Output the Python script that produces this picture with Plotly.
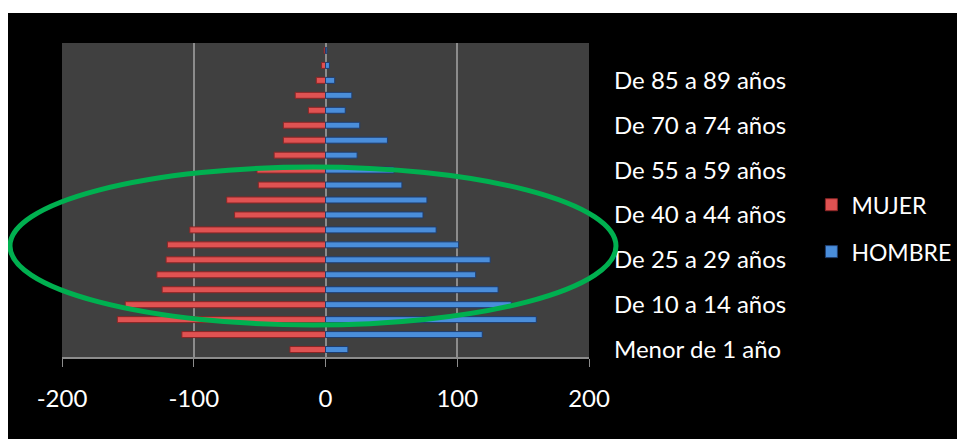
import plotly.graph_objects as go

categories = [
    "Menor de 1 año", "De 1 a 4 años", "De 5 a 9 años", "De 10 a 14 años",
    "De 15 a 19 años", "De 20 a 24 años", "De 25 a 29 años", "De 30 a 34 años",
    "De 35 a 39 años", "De 40 a 44 años", "De 45 a 49 años", "De 50 a 54 años",
    "De 55 a 59 años", "De 60 a 64 años", "De 65 a 69 años", "De 70 a 74 años",
    "De 75 a 79 años", "De 80 a 84 años", "De 85 a 89 años", "De 90 a 94 años",
    "De 95 a 99 años",
]
mujer = [27, 109, 158, 152, 124, 128, 121, 120, 103, 69, 75, 51, 52, 39, 32, 32, 13, 23, 7, 3, 1]
hombre = [17, 119, 160, 141, 131, 114, 125, 101, 84, 74, 77, 58, 52, 24, 47, 26, 15, 20, 7, 3, 1]
x_ticks = [-200, -100, 0, 100, 200]
shown_labels = categories[0::3]

FONT = "Lato"
GRAY = "#8c8c8c"

fig = go.Figure()
fig.add_trace(go.Bar(
    name="MUJER", y=categories, x=[-v for v in mujer], orientation="h",
    width=0.4, legendgroup="m",
    marker=dict(color="#E05252", line=dict(color="#8A2626", width=1)),
))
fig.add_trace(go.Bar(
    name="HOMBRE", y=categories, x=hombre, orientation="h",
    width=0.4, legendgroup="h",
    marker=dict(color="#4A8EDB", line=dict(color="#1F3D6E", width=1)),
))

n = len(categories)
boundaries = [i - 0.5 for i in range(n + 1)]

fig.update_layout(
    width=957, height=431,
    margin=dict(l=54, r=376, t=35, b=82, autoexpand=False),
    paper_bgcolor="black",
    plot_bgcolor="#404040",
    barmode="overlay",
    font=dict(family=FONT, color="white", size=24),
    xaxis=dict(
        range=[-200, 200], tickvals=x_ticks, ticktext=[str(v) for v in x_ticks],
        showgrid=True, gridcolor=GRAY, gridwidth=2,
        zeroline=False, showline=True, linecolor=GRAY, linewidth=2,
        ticks="outside", ticklen=8, tickcolor=GRAY, tickwidth=1,
        ticklabelstandoff=11, automargin=False,
        tickfont=dict(family=FONT, size=24, color="white"),
    ),
    yaxis=dict(
        type="category", categoryorder="array", categoryarray=categories,
        range=[-0.5, n - 0.5],
        side="right", tickvals=shown_labels, ticktext=shown_labels,
        ticks="", showgrid=False, zeroline=False, showline=False,
        ticklabelstandoff=24, automargin=False,
        tickfont=dict(family=FONT, size=24, color="white"),
    ),
    yaxis2=dict(
        overlaying="y", anchor="free", position=0.5, side="left",
        range=[-0.5, n - 0.5], tickvals=boundaries,
        ticks="outside", ticklen=8, tickcolor=GRAY, tickwidth=2,
        showticklabels=False, showgrid=False, zeroline=False,
        showline=True, linecolor=GRAY, linewidth=2, automargin=False,
    ),
    legend=dict(
        x=1.422, xanchor="left", y=0.41, yanchor="middle",
        traceorder="grouped", tracegroupgap=14,
        font=dict(family=FONT, size=23, color="white"),
        bgcolor="rgba(0,0,0,0)", itemwidth=30,
    ),
    showlegend=True,
    shapes=[
        dict(type="circle", xref="paper", yref="paper",
             x0=-0.0987, x1=1.0512, y0=0.102, y1=0.605,
             line=dict(color="#00B050", width=5), layer="above"),
        dict(type="rect", xref="paper", yref="paper",
             x0=-0.1025, x1=1.7135, y0=1.0955, y1=1.1115,
             fillcolor="white", line=dict(width=0), layer="above"),
    ],
)

fig.write_html("out.html")
